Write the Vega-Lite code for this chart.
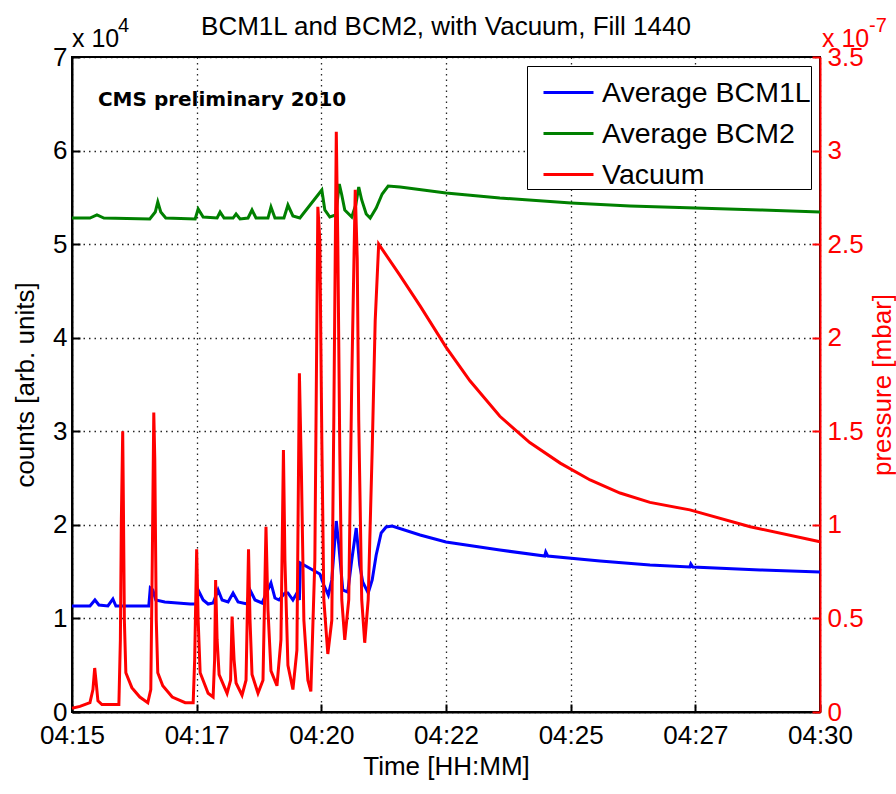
{
  "$schema": "https://vega.github.io/schema/vega-lite/v6.json",
  "width": 748,
  "height": 655,
  "autosize": {"type": "none"},
  "padding": {"left": 72, "top": 57, "right": 76, "bottom": 82},
  "background": "white",
  "config": {
    "font": "Liberation Sans",
    "view": {"stroke": "black", "strokeWidth": 2},
    "axis": {"labelFont": "Liberation Sans", "titleFont": "Liberation Sans", "labelFontSize": 26, "titleFontSize": 26, "titleFontWeight": "normal", "labelColor": "black", "titleColor": "black", "domainColor": "black", "domainWidth": 2, "tickColor": "black", "tickWidth": 2, "gridColor": "black", "gridDash": [1.5, 4], "gridOpacity": 0.85, "gridWidth": 1.3},
    "legend": {"labelFont": "Liberation Sans"}
  },
  "title": {"text": "BCM1L and BCM2, with Vacuum, Fill 1440", "fontSize": 26, "fontWeight": "normal", "font": "Liberation Sans", "color": "black", "anchor": "middle", "frame": "group", "baseline": "alphabetic", "offset": -45},
  "datasets": {
    "bcm": [
      {"t": 0, "series": "Average BCM1L", "counts": 11330},
      {"t": 0.36, "series": "Average BCM1L", "counts": 11330},
      {"t": 0.46, "series": "Average BCM1L", "counts": 11970},
      {"t": 0.54, "series": "Average BCM1L", "counts": 11430},
      {"t": 0.72, "series": "Average BCM1L", "counts": 11330},
      {"t": 0.82, "series": "Average BCM1L", "counts": 12080},
      {"t": 0.88, "series": "Average BCM1L", "counts": 11330},
      {"t": 1.54, "series": "Average BCM1L", "counts": 11330},
      {"t": 1.57, "series": "Average BCM1L", "counts": 13250},
      {"t": 1.62, "series": "Average BCM1L", "counts": 13040},
      {"t": 1.68, "series": "Average BCM1L", "counts": 11970},
      {"t": 1.86, "series": "Average BCM1L", "counts": 11760},
      {"t": 2.37, "series": "Average BCM1L", "counts": 11540},
      {"t": 2.49, "series": "Average BCM1L", "counts": 11540},
      {"t": 2.53, "series": "Average BCM1L", "counts": 13040},
      {"t": 2.63, "series": "Average BCM1L", "counts": 11970},
      {"t": 2.73, "series": "Average BCM1L", "counts": 11540},
      {"t": 2.83, "series": "Average BCM1L", "counts": 11650},
      {"t": 2.93, "series": "Average BCM1L", "counts": 13040},
      {"t": 3.01, "series": "Average BCM1L", "counts": 11970},
      {"t": 3.13, "series": "Average BCM1L", "counts": 11760},
      {"t": 3.23, "series": "Average BCM1L", "counts": 12720},
      {"t": 3.33, "series": "Average BCM1L", "counts": 11760},
      {"t": 3.51, "series": "Average BCM1L", "counts": 11540},
      {"t": 3.57, "series": "Average BCM1L", "counts": 13040},
      {"t": 3.67, "series": "Average BCM1L", "counts": 11970},
      {"t": 3.81, "series": "Average BCM1L", "counts": 11650},
      {"t": 3.99, "series": "Average BCM1L", "counts": 13790},
      {"t": 4.07, "series": "Average BCM1L", "counts": 12180},
      {"t": 4.15, "series": "Average BCM1L", "counts": 11970},
      {"t": 4.27, "series": "Average BCM1L", "counts": 12720},
      {"t": 4.33, "series": "Average BCM1L", "counts": 12720},
      {"t": 4.43, "series": "Average BCM1L", "counts": 11970},
      {"t": 4.51, "series": "Average BCM1L", "counts": 12720},
      {"t": 4.56, "series": "Average BCM1L", "counts": 11970},
      {"t": 4.58, "series": "Average BCM1L", "counts": 15920},
      {"t": 4.97, "series": "Average BCM1L", "counts": 14750},
      {"t": 5.05, "series": "Average BCM1L", "counts": 13570},
      {"t": 5.14, "series": "Average BCM1L", "counts": 12500},
      {"t": 5.21, "series": "Average BCM1L", "counts": 14110},
      {"t": 5.30, "series": "Average BCM1L", "counts": 20410},
      {"t": 5.35, "series": "Average BCM1L", "counts": 17850},
      {"t": 5.43, "series": "Average BCM1L", "counts": 13040},
      {"t": 5.53, "series": "Average BCM1L", "counts": 12820},
      {"t": 5.61, "series": "Average BCM1L", "counts": 16240},
      {"t": 5.70, "series": "Average BCM1L", "counts": 19660},
      {"t": 5.77, "series": "Average BCM1L", "counts": 15710},
      {"t": 5.83, "series": "Average BCM1L", "counts": 13890},
      {"t": 5.94, "series": "Average BCM1L", "counts": 12720},
      {"t": 6.02, "series": "Average BCM1L", "counts": 14110},
      {"t": 6.10, "series": "Average BCM1L", "counts": 16780},
      {"t": 6.20, "series": "Average BCM1L", "counts": 19130},
      {"t": 6.30, "series": "Average BCM1L", "counts": 19770},
      {"t": 6.42, "series": "Average BCM1L", "counts": 19880},
      {"t": 6.98, "series": "Average BCM1L", "counts": 18920},
      {"t": 7.50, "series": "Average BCM1L", "counts": 18170},
      {"t": 8.58, "series": "Average BCM1L", "counts": 17310},
      {"t": 9.48, "series": "Average BCM1L", "counts": 16670},
      {"t": 9.50, "series": "Average BCM1L", "counts": 17100},
      {"t": 9.54, "series": "Average BCM1L", "counts": 16670},
      {"t": 10.59, "series": "Average BCM1L", "counts": 16140},
      {"t": 11.59, "series": "Average BCM1L", "counts": 15710},
      {"t": 12.39, "series": "Average BCM1L", "counts": 15500},
      {"t": 12.41, "series": "Average BCM1L", "counts": 15820},
      {"t": 12.45, "series": "Average BCM1L", "counts": 15500},
      {"t": 13.80, "series": "Average BCM1L", "counts": 15180},
      {"t": 15.0, "series": "Average BCM1L", "counts": 14960},
      {"t": 0, "series": "Average BCM2", "counts": 52790},
      {"t": 0.36, "series": "Average BCM2", "counts": 52790},
      {"t": 0.50, "series": "Average BCM2", "counts": 53120},
      {"t": 0.64, "series": "Average BCM2", "counts": 52790},
      {"t": 1.56, "series": "Average BCM2", "counts": 52690},
      {"t": 1.67, "series": "Average BCM2", "counts": 53430},
      {"t": 1.72, "series": "Average BCM2", "counts": 54500},
      {"t": 1.78, "series": "Average BCM2", "counts": 53430},
      {"t": 1.88, "series": "Average BCM2", "counts": 52790},
      {"t": 2.47, "series": "Average BCM2", "counts": 52690},
      {"t": 2.53, "series": "Average BCM2", "counts": 53760},
      {"t": 2.63, "series": "Average BCM2", "counts": 52900},
      {"t": 2.91, "series": "Average BCM2", "counts": 52790},
      {"t": 2.97, "series": "Average BCM2", "counts": 53430},
      {"t": 3.05, "series": "Average BCM2", "counts": 52790},
      {"t": 3.23, "series": "Average BCM2", "counts": 52790},
      {"t": 3.29, "series": "Average BCM2", "counts": 53220},
      {"t": 3.37, "series": "Average BCM2", "counts": 52690},
      {"t": 3.53, "series": "Average BCM2", "counts": 52790},
      {"t": 3.61, "series": "Average BCM2", "counts": 53650},
      {"t": 3.69, "series": "Average BCM2", "counts": 52790},
      {"t": 3.93, "series": "Average BCM2", "counts": 52790},
      {"t": 3.99, "series": "Average BCM2", "counts": 53970},
      {"t": 4.07, "series": "Average BCM2", "counts": 52790},
      {"t": 4.25, "series": "Average BCM2", "counts": 52790},
      {"t": 4.33, "series": "Average BCM2", "counts": 54180},
      {"t": 4.43, "series": "Average BCM2", "counts": 53010},
      {"t": 4.57, "series": "Average BCM2", "counts": 52790},
      {"t": 5.01, "series": "Average BCM2", "counts": 55790},
      {"t": 5.07, "series": "Average BCM2", "counts": 53650},
      {"t": 5.17, "series": "Average BCM2", "counts": 52900},
      {"t": 5.29, "series": "Average BCM2", "counts": 53120},
      {"t": 5.36, "series": "Average BCM2", "counts": 56430},
      {"t": 5.41, "series": "Average BCM2", "counts": 55250},
      {"t": 5.47, "series": "Average BCM2", "counts": 53650},
      {"t": 5.61, "series": "Average BCM2", "counts": 52900},
      {"t": 5.69, "series": "Average BCM2", "counts": 54180},
      {"t": 5.75, "series": "Average BCM2", "counts": 56110},
      {"t": 5.81, "series": "Average BCM2", "counts": 54720},
      {"t": 5.90, "series": "Average BCM2", "counts": 53220},
      {"t": 5.98, "series": "Average BCM2", "counts": 52790},
      {"t": 6.10, "series": "Average BCM2", "counts": 53860},
      {"t": 6.22, "series": "Average BCM2", "counts": 55360},
      {"t": 6.34, "series": "Average BCM2", "counts": 56210},
      {"t": 6.58, "series": "Average BCM2", "counts": 56110},
      {"t": 7.50, "series": "Average BCM2", "counts": 55470},
      {"t": 8.58, "series": "Average BCM2", "counts": 54930},
      {"t": 10.01, "series": "Average BCM2", "counts": 54400},
      {"t": 11.19, "series": "Average BCM2", "counts": 54080},
      {"t": 12.51, "series": "Average BCM2", "counts": 53860},
      {"t": 13.80, "series": "Average BCM2", "counts": 53650},
      {"t": 15.0, "series": "Average BCM2", "counts": 53440}
    ],
    "vac": [
      {"t": 0, "series": "Vacuum", "p": 0.02},
      {"t": 0.16, "series": "Vacuum", "p": 0.03},
      {"t": 0.36, "series": "Vacuum", "p": 0.05},
      {"t": 0.42, "series": "Vacuum", "p": 0.12},
      {"t": 0.455, "series": "Vacuum", "p": 0.235},
      {"t": 0.48, "series": "Vacuum", "p": 0.17},
      {"t": 0.52, "series": "Vacuum", "p": 0.06},
      {"t": 0.60, "series": "Vacuum", "p": 0.04},
      {"t": 0.80, "series": "Vacuum", "p": 0.04},
      {"t": 0.94, "series": "Vacuum", "p": 0.04},
      {"t": 0.97, "series": "Vacuum", "p": 0.385},
      {"t": 0.99, "series": "Vacuum", "p": 1.03},
      {"t": 1.017, "series": "Vacuum", "p": 1.50},
      {"t": 1.03, "series": "Vacuum", "p": 1.13},
      {"t": 1.05, "series": "Vacuum", "p": 0.49},
      {"t": 1.08, "series": "Vacuum", "p": 0.21},
      {"t": 1.20, "series": "Vacuum", "p": 0.13},
      {"t": 1.36, "series": "Vacuum", "p": 0.08},
      {"t": 1.52, "series": "Vacuum", "p": 0.05},
      {"t": 1.58, "series": "Vacuum", "p": 0.12},
      {"t": 1.61, "series": "Vacuum", "p": 0.81},
      {"t": 1.64, "series": "Vacuum", "p": 1.60},
      {"t": 1.66, "series": "Vacuum", "p": 1.35},
      {"t": 1.69, "series": "Vacuum", "p": 0.49},
      {"t": 1.72, "series": "Vacuum", "p": 0.21},
      {"t": 1.82, "series": "Vacuum", "p": 0.14},
      {"t": 2.01, "series": "Vacuum", "p": 0.08},
      {"t": 2.27, "series": "Vacuum", "p": 0.05},
      {"t": 2.43, "series": "Vacuum", "p": 0.05},
      {"t": 2.46, "series": "Vacuum", "p": 0.28},
      {"t": 2.50, "series": "Vacuum", "p": 0.87},
      {"t": 2.53, "series": "Vacuum", "p": 0.49},
      {"t": 2.57, "series": "Vacuum", "p": 0.21},
      {"t": 2.73, "series": "Vacuum", "p": 0.10},
      {"t": 2.83, "series": "Vacuum", "p": 0.08},
      {"t": 2.86, "series": "Vacuum", "p": 0.28},
      {"t": 2.88, "series": "Vacuum", "p": 0.705},
      {"t": 2.91, "series": "Vacuum", "p": 0.385},
      {"t": 2.95, "series": "Vacuum", "p": 0.20},
      {"t": 3.11, "series": "Vacuum", "p": 0.10},
      {"t": 3.18, "series": "Vacuum", "p": 0.17},
      {"t": 3.21, "series": "Vacuum", "p": 0.51},
      {"t": 3.25, "series": "Vacuum", "p": 0.28},
      {"t": 3.29, "series": "Vacuum", "p": 0.155},
      {"t": 3.41, "series": "Vacuum", "p": 0.09},
      {"t": 3.49, "series": "Vacuum", "p": 0.17},
      {"t": 3.54, "series": "Vacuum", "p": 0.87},
      {"t": 3.57, "series": "Vacuum", "p": 0.49},
      {"t": 3.61, "series": "Vacuum", "p": 0.20},
      {"t": 3.73, "series": "Vacuum", "p": 0.10},
      {"t": 3.83, "series": "Vacuum", "p": 0.17},
      {"t": 3.89, "series": "Vacuum", "p": 0.99},
      {"t": 3.93, "series": "Vacuum", "p": 0.545},
      {"t": 3.99, "series": "Vacuum", "p": 0.22},
      {"t": 4.11, "series": "Vacuum", "p": 0.14},
      {"t": 4.19, "series": "Vacuum", "p": 0.385},
      {"t": 4.24, "series": "Vacuum", "p": 1.40},
      {"t": 4.27, "series": "Vacuum", "p": 0.81},
      {"t": 4.33, "series": "Vacuum", "p": 0.25},
      {"t": 4.43, "series": "Vacuum", "p": 0.12},
      {"t": 4.51, "series": "Vacuum", "p": 0.33},
      {"t": 4.56, "series": "Vacuum", "p": 1.81},
      {"t": 4.60, "series": "Vacuum", "p": 1.29},
      {"t": 4.65, "series": "Vacuum", "p": 0.49},
      {"t": 4.73, "series": "Vacuum", "p": 0.17},
      {"t": 4.79, "series": "Vacuum", "p": 0.11},
      {"t": 4.87, "series": "Vacuum", "p": 0.81},
      {"t": 4.93, "series": "Vacuum", "p": 2.70},
      {"t": 4.97, "series": "Vacuum", "p": 2.52},
      {"t": 5.01, "series": "Vacuum", "p": 1.45},
      {"t": 5.05, "series": "Vacuum", "p": 0.60},
      {"t": 5.13, "series": "Vacuum", "p": 0.31},
      {"t": 5.21, "series": "Vacuum", "p": 0.49},
      {"t": 5.25, "series": "Vacuum", "p": 1.56},
      {"t": 5.30, "series": "Vacuum", "p": 3.10},
      {"t": 5.33, "series": "Vacuum", "p": 2.52},
      {"t": 5.37, "series": "Vacuum", "p": 1.40},
      {"t": 5.41, "series": "Vacuum", "p": 0.60},
      {"t": 5.47, "series": "Vacuum", "p": 0.385},
      {"t": 5.55, "series": "Vacuum", "p": 0.60},
      {"t": 5.61, "series": "Vacuum", "p": 1.77},
      {"t": 5.68, "series": "Vacuum", "p": 2.79},
      {"t": 5.72, "series": "Vacuum", "p": 2.42},
      {"t": 5.75, "series": "Vacuum", "p": 1.56},
      {"t": 5.81, "series": "Vacuum", "p": 0.60},
      {"t": 5.87, "series": "Vacuum", "p": 0.37},
      {"t": 5.94, "series": "Vacuum", "p": 0.60},
      {"t": 6.02, "series": "Vacuum", "p": 1.40},
      {"t": 6.08, "series": "Vacuum", "p": 2.09},
      {"t": 6.15, "series": "Vacuum", "p": 2.50},
      {"t": 6.56, "series": "Vacuum", "p": 2.34},
      {"t": 6.98, "series": "Vacuum", "p": 2.17},
      {"t": 7.50, "series": "Vacuum", "p": 1.95},
      {"t": 7.98, "series": "Vacuum", "p": 1.77},
      {"t": 8.58, "series": "Vacuum", "p": 1.58},
      {"t": 9.18, "series": "Vacuum", "p": 1.44},
      {"t": 9.79, "series": "Vacuum", "p": 1.33},
      {"t": 10.39, "series": "Vacuum", "p": 1.24},
      {"t": 10.99, "series": "Vacuum", "p": 1.17},
      {"t": 11.59, "series": "Vacuum", "p": 1.12},
      {"t": 12.39, "series": "Vacuum", "p": 1.08},
      {"t": 13.60, "series": "Vacuum", "p": 0.99},
      {"t": 15.0, "series": "Vacuum", "p": 0.91}
    ]
  },
  "layer": [
    {
      "layer": [
        {
          "data": {"name": "bcm"},
          "mark": {"type": "line", "strokeWidth": 3, "interpolate": "linear"},
          "encoding": {
            "x": {"field": "t", "type": "quantitative", "scale": {"domain": [0, 15], "nice": false},
              "axis": {"values": [0, 2.5, 5, 7.5, 10, 12.5, 15], "labelExpr": "'04:' + floor(15 + datum.value)", "title": "Time [HH:MM]", "tickSize": -8, "labelPadding": 18, "titlePadding": 5, "grid": true, "labelFlush": false}},
            "y": {"field": "counts", "type": "quantitative", "scale": {"domain": [0, 70000], "nice": false},
              "axis": {"values": [0, 10000, 20000, 30000, 40000, 50000, 60000, 70000], "labelExpr": "'' + (datum.value / 10000)", "title": "counts [arb. units]", "tickSize": -8, "labelPadding": 13, "titlePadding": 14, "grid": true, "labelFlush": false}},
            "color": {"field": "series", "type": "nominal",
              "scale": {"domain": ["Average BCM1L", "Average BCM2", "Vacuum"], "range": ["#0000ff", "#008000", "#ff0000"]},
              "legend": {"title": null, "orient": "top-right", "offset": 9, "symbolType": "stroke", "symbolSize": 2500, "symbolStrokeWidth": 3, "symbolOffset": 15, "labelFontSize": 28.5, "labelColor": "black", "labelOffset": 7, "rowPadding": -12, "padding": 0, "strokeColor": "black", "fillColor": "white", "labelLimit": 400}},
            "detail": {"field": "series"}
          }
        },
        {
          "data": {"values": [{}]},
          "mark": {"type": "text", "text": "CMS preliminary 2010", "font": "DejaVu Sans", "fontWeight": "bold", "fontSize": 20, "align": "left", "baseline": "middle", "color": "black"},
          "encoding": {"x": {"datum": 0.52, "type": "quantitative"}, "y": {"datum": 65400, "type": "quantitative"}}
        },
        {
          "data": {"values": [{}]},
          "mark": {"type": "text", "text": "x 10", "fontSize": 25, "align": "left", "baseline": "alphabetic", "dy": -10, "color": "black"},
          "encoding": {"x": {"datum": 0, "type": "quantitative"}, "y": {"datum": 70000, "type": "quantitative"}}
        },
        {
          "data": {"values": [{}]},
          "mark": {"type": "text", "text": "4", "fontSize": 20, "align": "left", "baseline": "alphabetic", "dx": 46, "dy": -25, "color": "black"},
          "encoding": {"x": {"datum": 0, "type": "quantitative"}, "y": {"datum": 70000, "type": "quantitative"}}
        }
      ]
    },
    {
      "layer": [
        {
          "data": {"name": "vac"},
          "mark": {"type": "line", "strokeWidth": 3, "interpolate": "linear"},
          "encoding": {
            "x": {"field": "t", "type": "quantitative"},
            "y": {"field": "p", "type": "quantitative", "scale": {"domain": [0, 3.5], "nice": false},
              "axis": {"orient": "right", "values": [0, 0.5, 1, 1.5, 2, 2.5, 3, 3.5], "labelExpr": "'' + datum.value", "title": "pressure [mbar]", "titleAngle": 270, "titleBaseline": "top", "tickSize": -8, "labelPadding": 15, "titlePadding": 6, "grid": false, "labelFlush": false, "domainColor": "#ff0000", "tickColor": "#ff0000", "labelColor": "#ff0000", "titleColor": "#ff0000"}},
            "color": {"field": "series", "type": "nominal"}
          }
        },
        {
          "data": {"values": [{}]},
          "mark": {"type": "text", "text": "x 10", "fontSize": 25, "align": "left", "baseline": "alphabetic", "dx": 2, "dy": -10, "color": "#ff0000"},
          "encoding": {"x": {"datum": 15, "type": "quantitative"}, "y": {"datum": 3.5, "type": "quantitative"}}
        },
        {
          "data": {"values": [{}]},
          "mark": {"type": "text", "text": "-7", "fontSize": 20, "align": "left", "baseline": "alphabetic", "dx": 49, "dy": -25, "color": "#ff0000"},
          "encoding": {"x": {"datum": 15, "type": "quantitative"}, "y": {"datum": 3.5, "type": "quantitative"}}
        }
      ]
    }
  ],
  "resolve": {"scale": {"y": "independent"}, "axis": {"y": "independent"}}
}
